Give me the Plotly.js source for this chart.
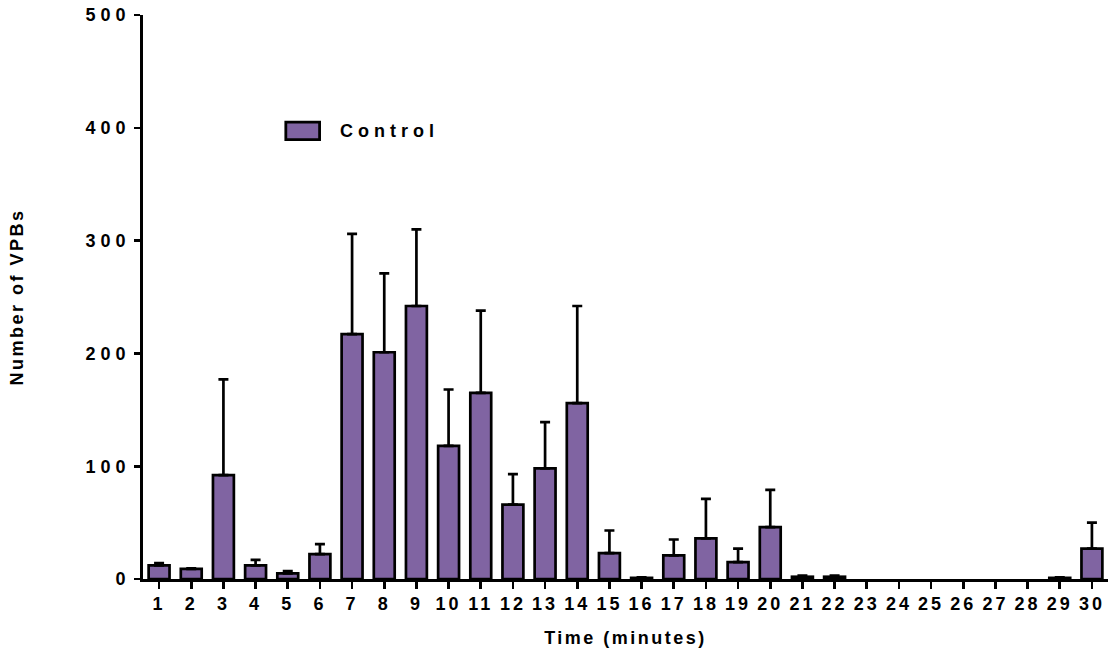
<!DOCTYPE html>
<html>
<head>
<meta charset="utf-8">
<script src="https://cdn.plot.ly/plotly-3.0.1.min.js"></script>
<style>
  html, body { margin: 0; padding: 0; background: #fff; }
  #chart { width: 1112px; height: 663px; }
  .ytick text { letter-spacing: 5px; }
  .xtick text { letter-spacing: 3px; }
  .g-xtitle text, .g-ytitle text { letter-spacing: 2.5px; }
  .annotation-text { letter-spacing: 5px; }
</style>
</head>
<body>
<div id="chart"></div>
<script>
const minutes = [1,2,3,4,5,6,7,8,9,10,11,12,13,14,15,16,17,18,19,20,21,22,23,24,25,26,27,28,29,30];
const meanVPBs = [12,9,92,12,5,22,217,201,242,118,165,66,98,156,23,1,21,36,15,46,2,2,0,0,0,0,0,0,1,27];
const semVPBs  = [2,0.5,85,5,2,9,89,70,68,50,73,27,41,86,20,0.5,14,35,12,33,1,1,0,0,0,0,0,0,0.5,23];
const seriesName = "Control";
const yTicks = [0,100,200,300,400,500];

const purple = "rgb(128,100,162)";
const fontFam = "Liberation Sans, Arial, sans-serif";

const trace = {
  type: "bar",
  x: minutes,
  y: meanVPBs.map(v => (v === 0 ? null : v)),
  name: seriesName,
  marker: { color: purple, line: { color: "#000", width: 2.7 } },
  error_y: {
    type: "data", symmetric: false,
    array: semVPBs, arrayminus: minutes.map(() => 0),
    color: "#000", thickness: 2.7, width: 5
  },
  showlegend: false,
  hoverinfo: "none"
};

const layout = {
  width: 1112, height: 663,
  margin: { l: 143, r: 4, t: 15, b: 84 },
  paper_bgcolor: "#fff", plot_bgcolor: "#fff",
  bargap: 0.35,
  font: { family: fontFam, color: "#000", size: 18, weight: "bold" },
  xaxis: {
    range: [0.5, 30.5],
    tickmode: "array", tickvals: minutes, ticktext: minutes.map(String),
    showgrid: false, zeroline: false,
    showline: true, linecolor: "#000", linewidth: 2.8,
    ticks: "outside", ticklen: 7, tickwidth: 2.6, tickcolor: "#000",
    tickfont: { family: fontFam, size: 18, weight: "bold" },
    title: { text: "Time (minutes)", font: { family: fontFam, size: 18, weight: "bold" }, standoff: 18 }
  },
  yaxis: {
    range: [0, 500],
    tickmode: "array", tickvals: yTicks, ticktext: yTicks.map(String),
    showgrid: false, zeroline: false,
    showline: true, linecolor: "#000", linewidth: 2.8,
    ticks: "outside", ticklen: 6, tickwidth: 2.6, tickcolor: "#000",
    tickfont: { family: fontFam, size: 18, weight: "bold" },
    title: { text: "Number of VPBs", font: { family: fontFam, size: 18, weight: "bold" }, standoff: 58 }
  },
  shapes: [{
    type: "rect", xref: "paper", yref: "paper",
    x0: 0.148, x1: 0.183, y0: 0.779, y1: 0.810,
    fillcolor: purple, line: { color: "#000", width: 2.8 }
  }],
  annotations: [{
    xref: "paper", yref: "paper", x: 0.202, y: 0.795,
    xanchor: "left", yanchor: "middle", showarrow: false,
    text: seriesName, font: { family: fontFam, size: 18, weight: "bold", color: "#000" }
  }]
};

Plotly.newPlot("chart", [trace], layout, { displayModeBar: false, staticPlot: true });
</script>
</body>
</html>
